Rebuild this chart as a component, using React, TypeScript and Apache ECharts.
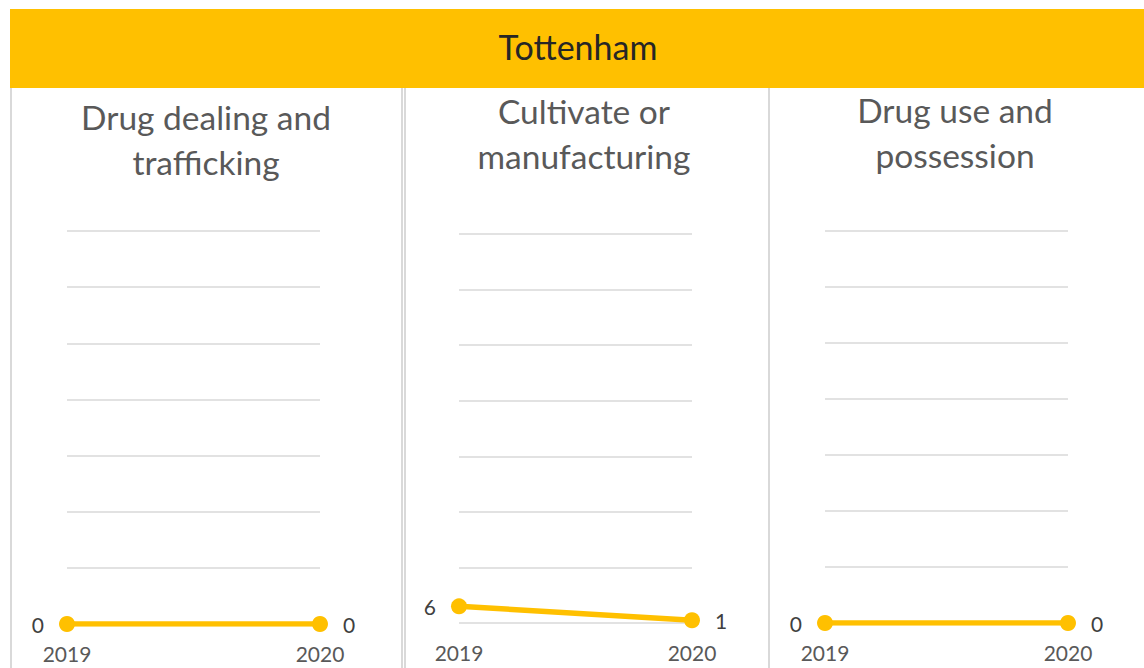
import React, { useEffect, useRef } from "react";
import * as echarts from "echarts";

const headerTitle = "Tottenham";
const years = ["2019", "2020"];
const panelTitles = [
  "Drug dealing and\ntrafficking",
  "Cultivate or\nmanufacturing",
  "Drug use and\npossession",
];
const dealingValues = [0, 0];
const cultivateValues = [6, 1];
const possessionValues = [0, 0];
const yMax = 140;
const yInterval = 20;

const FONT = "Lato, 'Open Sans', sans-serif";
const YELLOW = "#FFC000";
const GREY_TEXT = "#595959";

export default function App() {
  const ref = useRef<HTMLDivElement>(null);
  useEffect(() => {
    if (!ref.current) return;
    const chart = echarts.init(ref.current, undefined, { renderer: "svg" });
    const grids = [
      { left: 67, right: 1144 - 320, top: 231, bottom: 668 - 624 },
      { left: 459, right: 1144 - 692, top: 234, bottom: 668 - 623 },
      { left: 825, right: 1144 - 1068, top: 231, bottom: 668 - 623 },
    ];
    const seriesData = [dealingValues, cultivateValues, possessionValues];
    const titleCenters = [
      { x: 206, y: 139 },
      { x: 584, y: 133 },
      { x: 955, y: 132 },
    ];
    const borders = [11, 402, 405, 769];
    const option: any = {
      animation: false,
      backgroundColor: "#ffffff",
      grid: grids,
      xAxis: grids.map((_, i) => ({
        type: "category",
        gridIndex: i,
        data: years,
        boundaryGap: false,
        axisLine: { show: false },
        axisTick: { show: false },
        axisLabel: {
          color: GREY_TEXT,
          fontSize: 21,
          fontFamily: FONT,
          margin: 19,
        },
      })),
      yAxis: grids.map((_, i) => ({
        type: "value",
        gridIndex: i,
        min: 0,
        max: yMax,
        interval: yInterval,
        axisLabel: { show: false },
        axisLine: { show: false },
        axisTick: { show: false },
        splitLine: { lineStyle: { color: "#d9d9d9", width: 1.5 } },
      })),
      series: seriesData.map((vals, i) => ({
        type: "line",
        xAxisIndex: i,
        yAxisIndex: i,
        data: vals.map((v, j) => ({
          value: v,
          label: {
            show: true,
            position: j === 0 ? "left" : "right",
            distance: 15,
            color: "#404040",
            fontSize: 21,
            fontFamily: FONT,
          },
        })),
        symbol: "circle",
        symbolSize: 16,
        lineStyle: { color: YELLOW, width: 5.5 },
        itemStyle: { color: YELLOW },
        z: 3,
      })),
      graphic: [
        ...borders.map((x) => ({
          type: "line",
          shape: { x1: x, y1: 75, x2: x, y2: 668 },
          style: { stroke: "#d9d9d9", lineWidth: 2 },
          z: 1,
        })),
        {
          type: "rect",
          shape: { x: 10, y: 9, width: 1134, height: 79 },
          style: { fill: YELLOW },
          z: 2,
        },
        {
          type: "text",
          x: 578,
          y: 46,
          style: {
            text: headerTitle,
            fill: "#262626",
            font: `34px ${FONT}`,
            align: "center",
            verticalAlign: "middle",
          },
          z: 3,
        },
        ...panelTitles.map((t, i) => ({
          type: "text",
          x: titleCenters[i].x,
          y: titleCenters[i].y,
          style: {
            text: t,
            fill: GREY_TEXT,
            font: `33.5px ${FONT}`,
            lineHeight: 45,
            align: "center",
            verticalAlign: "middle",
          },
          z: 3,
        })),
      ],
    };
    chart.setOption(option);
    return () => chart.dispose();
  }, []);
  return (
    <div
      ref={ref}
      style={{ position: "fixed", left: 0, top: 0, width: 1144, height: 668 }}
    />
  );
}
